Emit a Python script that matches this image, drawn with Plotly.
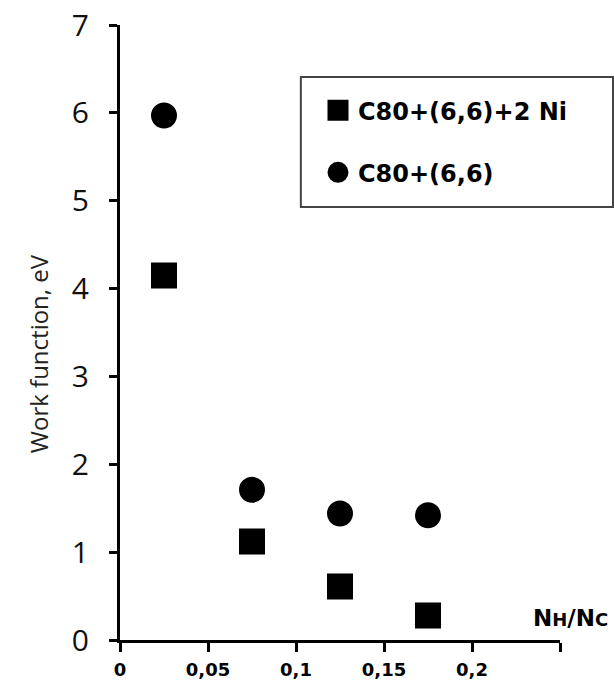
import plotly.graph_objects as go

# Data
x_ratio = [0.025, 0.075, 0.125, 0.175]
wf_ni = [4.15, 1.12, 0.61, 0.28]
wf_pure = [5.97, 1.71, 1.44, 1.42]
series_names = ["C80+(6,6)+2 Ni", "C80+(6,6)"]
x_tickvals = [0, 0.05, 0.1, 0.15, 0.2, 0.25]
x_ticktext = ["0", "0,05", "0,1", "0,15", "0,2", ""]
y_tickvals = [0, 1, 2, 3, 4, 5, 6, 7]
y_title = "Work function, eV"
x_title = "N<span style='font-size:18px'>H</span>/N<span style='font-size:18px'>C</span>"

fig = go.Figure()
fig.add_trace(go.Scatter(
    x=x_ratio, y=wf_ni, mode="markers", name=series_names[0], legendgroup="a",
    marker=dict(symbol="square", size=21, color="black", line=dict(color="black", width=5)),
))
fig.add_trace(go.Scatter(
    x=x_ratio, y=wf_pure, mode="markers", name=series_names[1], legendgroup="b",
    marker=dict(symbol="circle", size=21, color="black", line=dict(color="black", width=5)),
))

fig.update_layout(
    width=614, height=685,
    margin=dict(l=120, r=54, t=25, b=45, autoexpand=False),
    paper_bgcolor="white", plot_bgcolor="white",
    showlegend=True,
    legend=dict(
        x=0.45, y=0.8975, xanchor="left", yanchor="top",
        bgcolor="rgba(0,0,0,0)", borderwidth=0,
        font=dict(family="DejaVu Sans", size=24, color="black", weight="bold"),
        traceorder="grouped", tracegroupgap=28,
    ),
    shapes=[dict(
        type="rect", xref="paper", yref="paper",
        x0=0.411, x1=1.1205, y0=0.704, y1=0.9154,
        line=dict(color="#444", width=2), fillcolor="rgba(0,0,0,0)",
    )],
    annotations=[
        dict(text=x_title, xref="paper", yref="paper", x=1.1136, y=0.011,
             xanchor="right", yanchor="bottom", showarrow=False,
             font=dict(family="DejaVu Sans", size=23, color="black", weight="bold")),
        dict(text=y_title, xref="paper", yref="paper", x=-0.186, y=0.465,
             xanchor="center", yanchor="middle", textangle=-90, showarrow=False,
             font=dict(family="Open Sans", size=24, color="#222")),
    ],
)
fig.update_xaxes(
    range=[0, 0.25], tickvals=x_tickvals, ticktext=x_ticktext,
    showline=True, linewidth=3, linecolor="black", automargin=False,
    ticks="outside", ticklen=9, tickwidth=3, tickcolor="black",
    showgrid=False, zeroline=False, ticklabelstandoff=2,
    tickfont=dict(family="DejaVu Sans", size=18, color="black", weight="bold"),
)
fig.update_yaxes(
    range=[0, 7], tickvals=y_tickvals,
    showline=True, linewidth=3, linecolor="black", automargin=False,
    ticks="outside", ticklen=8, tickwidth=3, tickcolor="black",
    showgrid=False, zeroline=False, ticklabelstandoff=14,
    tickfont=dict(family="Open Sans", size=30, color="#111"),
)

fig.write_html("out.html")
